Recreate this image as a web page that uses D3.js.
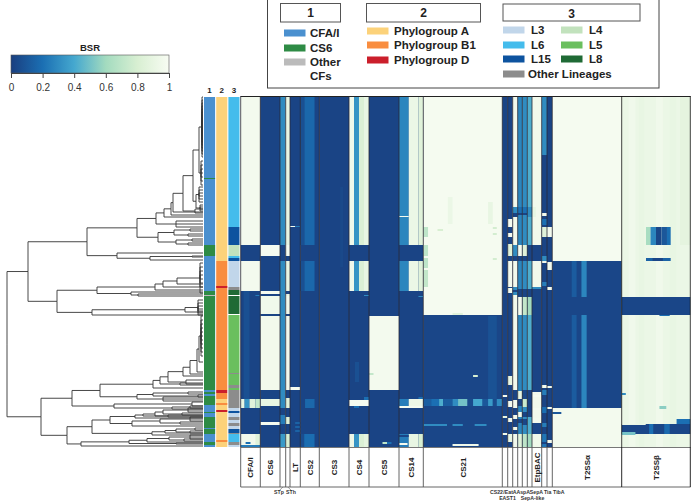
<!DOCTYPE html>
<html><head><meta charset="utf-8">
<script src="https://cdn.jsdelivr.net/npm/d3@7"></script>
<style>html,body{margin:0;background:#fff}svg{display:block}text{font-family:"Liberation Sans",Arial,sans-serif}</style>
</head><body><svg id="c" width="691" height="503"></svg>
<script>
// ---- data ----
const geneNames = ["CFA/I","CS6","STp","STh","LT","CS2","CS3","CS4","CS5","CS14","CS21","CS22","EAST1","EatA","AspA","SepA","SepA-like","EtpBAC","Tia","TibA","T2SSα","T2SSβ"];
const geneLengths = [19.6,19.7,5.7,4.3,10.3,19,29.7,20,30,24.3,79,5.4,5,5,4.6,5,4.7,9.7,5.3,5.3,69.4,68.6];
const bsrStops = [0,0.2,0.4,0.6,0.8,1];
const bsrColors = ["#1a3f80","#1b6fb3","#45a8cf","#a3dbbf","#d8efd2","#f8fcf3"];
// cells: [rowStart,rowEnd,fracStart,fracEnd,BSR] painted in order
const CFA = [[0,148,0,1,.97],[148,164,0,1,.02],[164,194,0,1,.97],[194,350,0,1,.02],[194,302,.15,.45,.07],[198,199,.75,.95,.25],
 [302,311,0,.2,.9],[302,311,.2,.45,.33],[302,311,.45,.75,.85],[302,311,.75,1,.72],[337,350,0,1,.96],[345,347,.25,.5,.2],[337,350,.75,1,.85],[348,350,0,1,.25]];
const CS6 = [[0,350,0,1,.02],[148,159,0,1,.98],[194,197,0,1,.98],[199,217,0,1,.95],[219,293,0,1,.96],[302,309,0,1,.9],[325,328,0,1,.98]];
const STp = [[0,350,0,1,.3],[148,164,0,1,.02],[311,318,0,1,.02],[327,337,0,1,.02],[318,327,0,1,.25],[337,350,0,1,.35]];
const STh = [[0,350,0,1,.9],[148,159,0,1,.98],[159,164,0,1,.02],[194,197,0,1,.02],[199,217,0,1,.95],[217,219,0,1,.02],[219,293,0,1,.96],[293,301,0,1,.02],[301,311,0,1,.85],[311,320,0,1,.02],[320,327,0,1,.85],[327,337,0,1,.02],[337,350,0,1,.8]];
const LT = [[0,350,0,1,.02],[129,130,0,.5,.98],[129,130,.5,1,.25],[290,293,0,1,.98],[325,327,.5,1,.15],[329,331,.5,1,.15],[333,335,.5,1,.15]];
const CS2 = [[0,350,0,1,.02],[0,148,0,.22,.07],[0,148,.22,.75,.17],[164,194,0,.22,.07],[164,194,.22,.75,.17],[302,311,.25,.75,.17],[337,350,.2,.75,.19],[337,350,0,.2,.06]];
const CS3 = [[0,350,0,1,.02],[90,170,.7,.8,.04]];
const CS4 = [[0,350,0,1,.02],[0,148,0,.25,.95],[0,148,.25,.5,.33],[0,148,.5,.75,.82],[0,148,.75,1,.9],[164,194,0,.25,.95],[164,194,.25,.5,.33],[164,194,.5,.75,.82],[164,194,.75,1,.9],
 [265,285,.3,.5,.07],[198,199,.75,1,.3],[303,309,0,1,.98],[309,311,.25,.5,.2],[300,303,.75,1,.2],[337,350,0,.25,.93],[337,350,.25,.5,.33],[337,350,.5,.75,.82],[337,350,.75,1,.88]];
const CS5 = [[0,350,0,1,.02],[219,293,0,1,.97],[276,278,0,.15,.72],[345,347,.45,.6,.7],[345,347,.6,.75,.2]];
const CS14 = [[0,350,0,1,.02],[0,148,0,.4,.28],[0,148,.4,.8,.92],[0,148,.8,1,.85],[119,120,0,.4,.98],[164,194,0,.4,.28],[164,194,.4,.8,.92],[164,194,.8,1,.85],[199,200,.8,1,.3],
 [302,309,0,.4,.25],[302,309,.4,1,.93],[300,302,.8,1,.2],[309,311,0,1,.98],[337,350,0,.4,.25],[337,350,.4,.8,.9],[337,350,.8,1,.8],[346,348,0,.35,.98],[338,340,0,.4,.03]];
const CS21 = [[0,218,0,1,.98],[218,350,0,1,.03],[219,302,.82,.93,.08],[100,127,.31,.37,.92],[105,127,.82,.88,.9],[130,140,0,.06,.7],[148,159,0,.06,.7],[161,171,0,.06,.7],[173,190,0,.06,.72],[132,134,.18,.25,.8],[130,132,.88,.93,.78],[136,138,.88,.93,.78],[161,163,.88,.93,.78],[216,218,.37,.5,.85],
 [278,280,.63,.69,.8],[302,309,0,.1,.13],[302,309,.1,.2,.2],[302,309,.2,.25,.42],[302,309,.25,.37,.12],[302,309,.37,.44,.3],[302,309,.44,.56,.5],[302,309,.56,.63,.05],[302,309,.63,.75,.4],[302,309,.75,.82,.1],[302,309,.82,.88,.35],[302,309,.88,.93,.05],[302,309,.93,1,.3],
 [327,329,0,.3,.3],[327,329,.37,.5,.3],[327,329,.65,.8,.3],[347,349,.37,.7,.95]];
const CS22 = [[0,350,0,1,.02],[298,300,0,1,.98],[319,321,0,1,.9],[336,338,0,1,.95]];
const EAST1 = [[0,350,0,1,.02],[122,130,0,1,.98],[136,140,0,1,.98],[147,159,0,1,.85],[164,190,0,1,.97],[191,196,0,1,.97],[279,288,0,1,.9],[304,310,0,1,.97],[321,325,0,1,.95],[337,345,0,1,.9]];
const EatA = [[0,350,0,1,.96],[110,116,0,1,.3],[116,120,0,1,.02],[148,159,0,1,.3],[159,164,0,1,.02],[190,198,0,1,.3],[193,195,0,1,.02],[293,303,0,1,.02],[311,318,0,1,.02],[322,330,0,1,.02],[333,337,0,1,.02]];
const AspA = [[0,350,0,1,.28],[110,116,0,1,.2],[116,118,0,1,.02],[148,159,0,1,.98],[159,164,0,1,.02],[192,200,0,1,.02],[200,218,0,1,.97],[294,302,0,1,.9],[302,309,0,1,.02],[315,320,0,1,.95],[322,326,0,1,.03],[337,350,0,1,.85]];
const SepA = [[0,350,0,1,.3],[110,116,0,1,.2],[116,118,0,1,.02],[148,159,0,1,.85],[159,164,0,1,.02],[192,200,0,1,.02],[200,218,0,1,.72],[293,302,0,1,.04],[302,310,0,1,.75],[315,320,0,1,.02],[322,328,0,1,.03],[337,350,0,1,.7]];
const SepALike = [[0,350,0,1,.42],[110,120,0,1,.3],[148,164,0,1,.02],[192,200,0,1,.02],[200,218,0,1,.6],[293,320,0,1,.02],[337,350,0,1,.6]];
const EtpBAC = [[0,350,0,1,.96],[110,120,0,.4,.9],[148,164,0,1,.02],[190,192,0,1,.3],[192,295,0,1,.02],[298,300,0,1,.98],[311,313,0,1,.98],[321,325,0,1,.97],[326,337,0,1,.03],[337,350,0,1,.95]];
const Tia = [[0,58,0,1,.3],[58,350,0,1,.02],[116,119,0,1,.97],[122,128,0,1,.2],[130,140,0,1,.85],[159,164,0,1,.3],[164,166,0,1,.97],[185,189,0,1,.25],[288,291,0,1,.97],[293,298,0,1,.25],[310,316,0,1,.2],[326,330,0,1,.25],[337,350,0,1,.22],[345,347,0,1,.02]];
const TibA = [[0,350,0,1,.02],[130,140,0,1,.97],[165,173,0,1,.97],[190,193,0,1,.97],[289,291,0,1,.96],[310,312,0,1,.97],[343,346,0,1,.97]];
const T2a = [[0,164,0,1,.98],[164,311,0,1,.03],[164,200,.28,.35,.12],[164,200,.42,.495,.28],[218,311,.28,.35,.12],[218,311,.42,.495,.28],[311,350,0,1,.97],[315,317,0,.13,.1]];
const T2b = [[0,350,0,1,.92],[0,350,.1,.2,.95],[0,350,.25,.33,.9],[0,350,.5,.6,.95],[0,350,.7,.8,.9],[0,148,.85,1,.88],[200,218,0,1,.03],[218,219,.55,.7,.2],[296,298,0,.06,.3],[309,312,.55,.65,.55],[130,148,.354,.42,.62],[130,148,.42,.5,.28],[130,148,.5,.58,.03],[130,148,.58,.66,.1],[130,148,.66,.714,.2],[161,164,.354,.714,.15],[161,164,.45,.6,.03],
 [322,327,.8,1,.2],[327,337,0,1,.03],[327,337,.4,.46,.2],[327,337,.62,.7,.18],[327,328,0,.35,.92],[335,338,0,.2,.5]];
const geneCells = [CFA,CS6,STp,STh,LT,CS2,CS3,CS4,CS5,CS14,CS21,CS22,EAST1,EatA,AspA,SepA,SepALike,EtpBAC,Tia,TibA,T2a,T2b];
const bottomLabelled = ["STp","STh","CS22","/EatA","AspA","SepA","Tia","TibA","EAST1","SepA-like"];
const bottomX = [279,291,496.5,510,523.2,536.5,547.6,558.8,507.5,532.5];
const bottomY = [494,494,493.5,493.5,493.5,493.5,493.5,493.5,500,500];
const boxLabelled = ["CFA/I","CS6","LT","CS2","CS3","CS4","CS5","CS14","CS21","EtpBAC","T2SSα","T2SSβ"];
const tickValues = [0,0.2,0.4,0.6,0.8,1];
const tickLabels = ["0","0.2","0.4","0.6","0.8","1"];
const palette = {"CFA/I":"#4a90cf","CS6":"#2e8b45","Other CFs":"#bbbbbb","A":"#fcd27a","B1":"#f98d3f","D":"#cb1f2b","L3":"#c1d6ea","L4":"#c2e2bd","L5":"#6abf5e","L6":"#44bcec","L8":"#1f6a35","L15":"#0d539f","OL":"#8c8c8c"};
const bar1 = [[0,350,"CFA/I"],[81,82,"CS6"],[148,159,"CS6"],[194,199,"CS6"],[199,293,"CS6"],[295,297,"CS6"],[299,308,"CS6"],[315,316,"CS6"],[320,331,"CS6"],[332,337,"CS6"],[345,348,"CS6"],[198,199,"Other CFs"]];
const bar2 = [[0,164,"A"],[164,293,"B1"],[189,191,"D"],[293,296,"D"],[296,302,"B1"],[302,350,"A"],[306,308,"B1"],[313,315,"D"],[343,345,"B1"]];
const bar3 = [[0,130,"L6"],[130,148,"L15"],[148,159,"L4"],[159,161,"L6"],[161,164,"L15"],[164,190,"L3"],[190,193,"OL"],[193,198,"L8"],[199,217,"L8"],[218,276,"L5"],[276,277,"OL"],[277,288,"L5"],[288,291,"OL"],[291,293,"L5"],[293,311,"OL"],[311,314,"L3"],[314,316,"L15"],[316,320,"L3"],[320,323,"OL"],[323,326,"L3"],[326,329,"OL"],[329,332,"L3"],[332,336,"L15"],[336,337,"OL"],[337,345,"L6"],[345,348,"OL"],[348,350,"L3"]];
const legend1 = [["CFA/I","CFA/I"],["CS6","CS6"],["Other","Other CFs"]];
const legend2 = [["Phylogroup A","A"],["Phylogroup B1","B1"],["Phylogroup D","D"]];
const legend3a = [["L3","L3"],["L6","L6"],["L15","L15"]];
const legend3b = [["L4","L4"],["L5","L5"],["L8","L8"]];
// dendrogram: [distance, ...children], numbers are leaf rows
const tree = [7,
 [28,
  [87,
   [137,
    [156,
     [164,
      [171,
       [173,
        [183,
         [193,
          [199,[202,0,3,6,9,12,15,18,21,24,27,30,33,36,39,42,45,48,51,54,57,60],[201,64,68,72,76,80,84,88]],
          [196,[199,90,93,96,99,102,105],[200,108,110,112,114]]],
         [195,112,116]],
        115],
       118],
      120],
     [176,124,127,130]],
    [158,[174,[190,132,134],[188,137,139]],[176,[192,142,144],[188,146,148]]]],
   [117,156,[150,[192,159,160],163]]],
  [57,
   [97,
    [155,[163,[177,[200,166,170,174,178,182,186,190,196],187],190],193],
    [131,195,[138,197,199]]],
   [92,[185,[198,203,206,209,212,214,216,218],215],218]]],
 [41,
  [72,
   [100,
    [153,
     [160,
      [168,
       [183,
        [190,
         [197,[199,[201,219,223,227,231,235,239,243,247,251,255,259],265],275],
         277],
        279],
       [186,283,287]],
      [180,286,288]],
     291],
    [137,[153,[188,295,297],[198,298,300]],[163,300,302,304]]],
   [114,[192,305,309],[172,[190,309,311],312]]],
  [67,
   [92,
    [110,
     [135,[143,[155,[163,[188,311,313,315],[182,316,318]],319],[168,318,320]],321],
     [132,[160,[190,320,322,324],[180,325,327]],329]],
    [152,[165,[176,[195,331,333],[190,334,336]],336],338]],
   [81,[129,[147,[169,[190,338,340,342],[184,342,344]],345],[176,346,347]],349]]]];

// ---- scales ----
const svg = d3.select("#c");
const bsr = d3.scaleLinear().domain(bsrStops).range(bsrColors);
const yRow = d3.scaleLinear().domain([0,350]).range([97,447]);
const edges = d3.cumsum(geneLengths);
const xGene = d3.scaleLinear().domain([0,d3.sum(geneLengths)]).range([240.7,690.3]);
const geneX0 = i => xGene(i ? edges[i-1] : 0), geneX1 = i => xGene(edges[i]);
const xTree = d3.scaleLinear().domain([0,203]).range([0,203]);
const xBar = d3.scaleBand().domain(["1","2","3"]).range([204,239.5]).paddingInner(0.09);

// ---- heatmap ----
geneNames.forEach((name,i)=>{
  const x = d3.scaleLinear().domain([0,1]).range([geneX0(i),geneX1(i)]);
  svg.append("g").selectAll("rect").data(geneCells[i]).join("rect")
    .attr("x",d=>x(d[2])).attr("width",d=>x(d[3])-x(d[2]))
    .attr("y",d=>yRow(d[0])).attr("height",d=>yRow(d[1])-yRow(d[0]))
    .attr("fill",d=>bsr(d[4]));
});
// grid
const g = svg.append("g").attr("fill","none");
g.append("line").attr("x1",240.7).attr("x2",690.5).attr("y1",96.5).attr("y2",96.5).attr("stroke","#222");
g.append("line").attr("x1",240.7).attr("x2",690.5).attr("y1",447.5).attr("y2",447.5).attr("stroke","#777");
g.append("line").attr("x1",240.7).attr("x2",690.5).attr("y1",487).attr("y2",487).attr("stroke","#666");
[0,...edges].forEach((e,i)=>{
  g.append("line").attr("x1",xGene(e)).attr("x2",xGene(e)).attr("y1",96).attr("y2",447).attr("stroke",i>=21?"#111":"#2a2a35").attr("stroke-width",.8);
  g.append("line").attr("x1",xGene(e)).attr("x2",xGene(e)).attr("y1",447).attr("y2",487).attr("stroke",i>=21?"#111":"#555").attr("stroke-width",.9);
});
// gene labels
boxLabelled.forEach(n=>{
  const i = geneNames.indexOf(n);
  const cx = (geneX0(i)+geneX1(i))/2, cy = 467.5;
  svg.append("text").attr("transform",`translate(${cx+2.7},${cy}) rotate(-90)`).attr("text-anchor","middle")
    .attr("font-size",8).attr("font-weight","bold").attr("fill","#222").text(n);
});
svg.append("g").selectAll("text").data(bottomLabelled).join("text")
  .attr("x",(d,i)=>bottomX[i]).attr("y",(d,i)=>bottomY[i]).attr("text-anchor","middle")
  .attr("font-size",5.2).attr("font-weight","bold").attr("fill","#333").text(d=>d);
[[2,-1],[3,1]].forEach(([i,s])=>{
  const c=(geneX0(i)+geneX1(i))/2;
  g.append("line").attr("x1",c).attr("x2",c+s*3).attr("y1",487).attr("y2",490).attr("stroke","#555").attr("stroke-width",.6);
});

// ---- side bars ----
[["1",bar1],["2",bar2],["3",bar3]].forEach(([k,b])=>{
  svg.append("g").selectAll("rect").data(b).join("rect")
    .attr("x",xBar(k)).attr("width",xBar.bandwidth())
    .attr("y",d=>yRow(d[0])).attr("height",d=>yRow(d[1])-yRow(d[0]))
    .attr("fill",d=>palette[d[2]]);
  svg.append("text").attr("x",xBar(k)+xBar.bandwidth()/2).attr("y",93).attr("text-anchor","middle")
    .attr("font-size",8).attr("font-weight","bold").attr("fill","#222").text(k);
});

// ---- dendrogram ----
const toNode = t => typeof t==="number" ? {x:203,row:t} : {x:t[0],children:t.slice(1).map(toNode)};
const root = d3.hierarchy(toNode(tree));
root.eachAfter(n=>{
  if(n.children){const c=n.children; n.data.row=(c[0].data.row+c[c.length-1].data.row)/2;}
});
const treeG = svg.append("g").attr("fill","none").attr("stroke","#333").attr("stroke-width",.9);
root.links().forEach(l=>{
  const p=d3.path();
  p.moveTo(xTree(l.source.data.x),yRow(l.source.data.row));
  p.lineTo(xTree(l.source.data.x),yRow(l.target.data.row));
  p.lineTo(xTree(l.target.data.x),yRow(l.target.data.row));
  treeG.append("path").attr("d",p.toString());
});

// ---- colour bar ----
const xBsr = d3.scaleLinear().domain([0,1]).range([11,169]);
const defs = svg.append("defs").append("linearGradient").attr("id","bsrg");
bsrStops.forEach((s,i)=>defs.append("stop").attr("offset",s).attr("stop-color",bsrColors[i]));
svg.append("rect").attr("x",xBsr(0)).attr("y",55).attr("width",xBsr(1)-xBsr(0)).attr("height",18).attr("fill","url(#bsrg)").attr("stroke","#555").attr("stroke-width",.6);
svg.append("text").attr("x",90).attr("y",51).attr("text-anchor","middle").attr("font-size",9.5).attr("font-weight","bold").attr("fill","#222").text("BSR");
const axis = d3.axisBottom(xBsr).tickValues(tickValues).tickFormat((d,i)=>tickLabels[i]).tickSize(5).tickSizeOuter(0);
const ag = svg.append("g").attr("transform","translate(0,73)").call(axis);
ag.select(".domain").attr("stroke","#444");
ag.selectAll("line").attr("stroke","#444");
ag.selectAll("text").attr("font-size",10).attr("fill","#333").attr("y",11).attr("font-family","Liberation Sans");

// ---- legend ----
const L = svg.append("g");
L.append("rect").attr("x",267.5).attr("y",-1).attr("width",391.5).attr("height",89).attr("fill","#fff").attr("stroke","#444");
[["1",280.5,3.5,60,18.5],["2",366.5,3.5,114,18.5],["3",503,4,137,17]].forEach(d=>{
  L.append("rect").attr("x",d[1]).attr("y",d[2]).attr("width",d[3]).attr("height",d[4]).attr("fill","#fff").attr("stroke","#555");
  L.append("text").attr("x",d[1]+d[3]/2).attr("y",d[2]+13.5).attr("text-anchor","middle").attr("font-size",12).attr("font-weight","bold").attr("fill","#222").text(d[0]);
});
const addLegend=(items,xs,xt,ys)=>items.forEach((d,i)=>{
  L.append("rect").attr("x",xs).attr("y",ys[i]-3.5).attr("width",21.5).attr("height",7).attr("fill",palette[d[1]]);
  L.append("text").attr("x",xt).attr("y",ys[i]+4).attr("font-size",11.5).attr("font-weight","bold").attr("fill","#222").text(d[0]);
});
addLegend(legend1,284,310,[33,48,62]);
L.append("text").attr("x",310).attr("y",80).attr("font-size",11.5).attr("font-weight","bold").attr("fill","#222").text("CFs");
addLegend(legend2,367,394,[31,45,60]);
addLegend(legend3a,503,531,[30,45,59]);
addLegend(legend3b,561,589,[30,45,59]);
addLegend([["Other Lineages","OL"]],503,528,[74]);
</script></body></html>
